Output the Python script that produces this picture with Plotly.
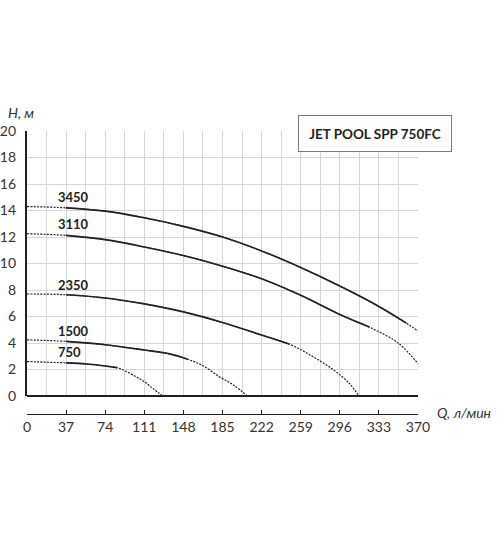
import plotly.graph_objects as go

# pump curves of JET POOL SPP 750FC, Q in l/min, H in m
speeds = ["3450", "3110", "2350", "1500", "750"]

q_3450 = [0, 37, 74, 111, 148, 185, 222, 259, 296, 333, 359, 370]
h_3450 = [14.3, 14.2, 13.95, 13.45, 12.8, 12.0, 10.95, 9.7, 8.3, 6.76, 5.5, 4.9]

q_3110 = [0, 37, 74, 111, 148, 185, 222, 259, 296, 324, 351.5, 370]
h_3110 = [12.25, 12.12, 11.8, 11.25, 10.6, 9.8, 8.85, 7.6, 6.15, 5.2, 3.98, 2.45]

q_2350 = [0, 37, 74, 111, 148, 185, 222, 248, 270, 290, 305, 314]
h_2350 = [7.7, 7.64, 7.4, 6.95, 6.35, 5.55, 4.6, 3.93, 3.0, 1.97, 0.96, 0]

q_1500 = [0, 37, 74, 111, 135, 152, 165, 182, 196, 208.5]
h_1500 = [4.24, 4.12, 3.87, 3.47, 3.18, 2.77, 2.35, 1.46, 0.8, 0]

q_750 = [0, 37, 56, 74, 85, 93, 103, 111, 119, 128.5]
h_750 = [2.6, 2.5, 2.42, 2.27, 2.14, 1.89, 1.46, 1.08, 0.58, 0]

# index range of the measured (solid) part of each curve
solid_3450 = (1, 10)
solid_3110 = (1, 9)
solid_2350 = (1, 7)
solid_1500 = (1, 5)
solid_750 = (1, 4)

x_ticks = [0, 37, 74, 111, 148, 185, 222, 259, 296, 333, 370]
y_ticks = [0, 2, 4, 6, 8, 10, 12, 14, 16, 18, 20]

curves = [
    (q_3450, h_3450, solid_3450),
    (q_3110, h_3110, solid_3110),
    (q_2350, h_2350, solid_2350),
    (q_1500, h_1500, solid_1500),
    (q_750, h_750, solid_750),
]

ink = "#231f20"
font = "Lato, Open Sans, sans-serif"

fig = go.Figure()
for name, (q, h, (a, b)) in zip(speeds, curves):
    # whole curve dotted underneath, measured part solid on top
    fig.add_trace(go.Scatter(x=q, y=h, mode="lines", line_shape="spline",
                             line=dict(color=ink, width=1.2, dash="2px,1.3px"),
                             showlegend=False, hoverinfo="skip"))
    fig.add_trace(go.Scatter(x=q[a:b + 1], y=h[a:b + 1], mode="lines", line_shape="spline",
                             line=dict(color=ink, width=1.6),
                             showlegend=False, hoverinfo="skip"))
    fig.add_annotation(x=27, y=h[0] + 0.7, xref="x", yref="y", text="<b>%s</b>" % name,
                       showarrow=False, xanchor="left", yanchor="middle",
                       font=dict(family=font, size=13, color=ink))

fig.add_annotation(x=0.89, y=0.991, xref="paper", yref="paper",
                   text="<b>JET POOL SPP 750FC</b>", showarrow=False,
                   xanchor="center", yanchor="middle",
                   width=148, height=31, borderpad=2, borderwidth=1,
                   bordercolor="#7a7a7a", bgcolor="white",
                   font=dict(family=font, size=13.5, color=ink))
fig.add_annotation(x=-0.054, y=1.065, xref="paper", yref="paper", text="<i>H, м</i>",
                   showarrow=False, xanchor="left", yanchor="middle",
                   font=dict(family=font, size=14, color="#333"))
fig.add_annotation(x=1.043, y=0.007, xref="paper", yref="paper", text="<i>Q, л/мин</i>",
                   showarrow=False, xanchor="left", yanchor="middle",
                   font=dict(family=font, size=14, color="#333"))

fig.update_xaxes(range=[0, 370], tickvals=x_ticks, anchor="free", position=0,
                 automargin=False,
                 showline=True, linecolor=ink, linewidth=1,
                 ticks="inside", ticklen=4, tickcolor=ink, tickwidth=1,
                 showgrid=True, gridcolor="#d6d6d6", gridwidth=1,
                 minor=dict(dtick=18.5, tick0=0, showgrid=True, gridcolor="#d6d6d6", ticks=""),
                 zeroline=False, ticklabelstandoff=0,
                 tickfont=dict(family=font, size=14, color="#333"))
fig.update_yaxes(range=[0, 20], tickvals=y_ticks, domain=[0.0636, 1],
                 automargin=False,
                 showline=True, linecolor=ink, linewidth=2.2,
                 showgrid=True, gridcolor="#d6d6d6", gridwidth=1,
                 zeroline=True, zerolinecolor=ink, zerolinewidth=2.2,
                 ticks="", ticklabelstandoff=6,
                 tickfont=dict(family=font, size=14, color="#333"))

fig.update_layout(width=500, height=538, plot_bgcolor="white", paper_bgcolor="white",
                  margin=dict(l=27, r=82, t=131, b=124))
fig.write_html("out.html", config={"displayModeBar": False},
               post_script="document.body.style.margin='0';")
